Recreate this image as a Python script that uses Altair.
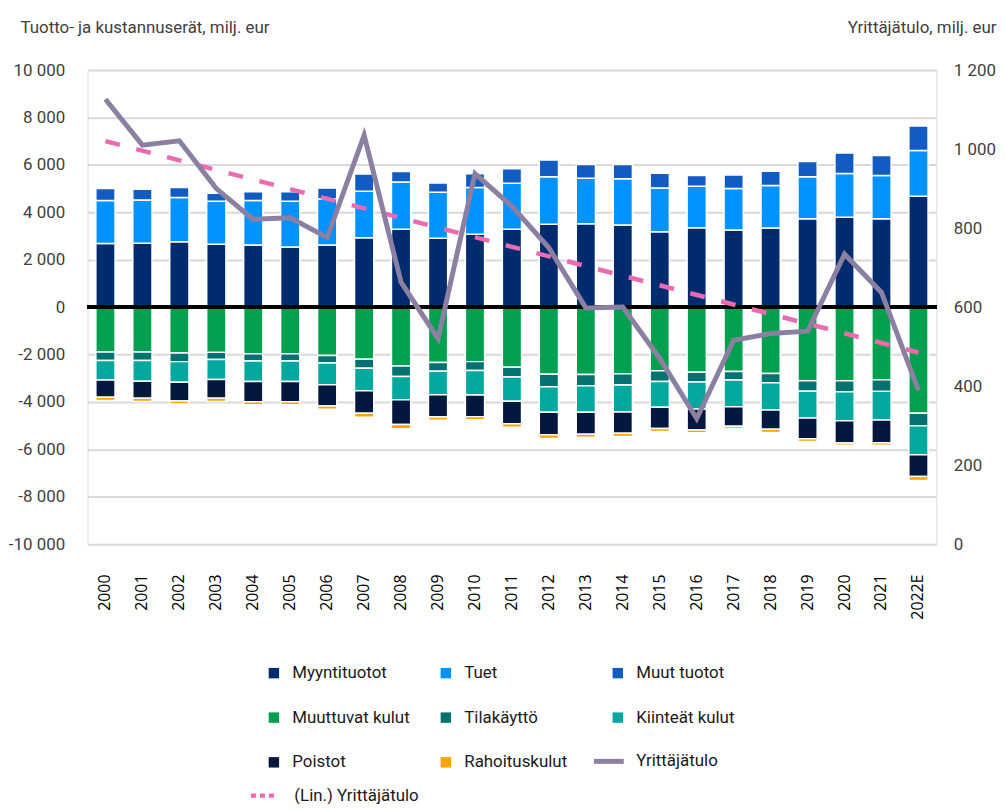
import altair as alt
import pandas as pd

FONT = "Roboto"
FS = 17

years = ["2000", "2001", "2002", "2003", "2004", "2005", "2006", "2007", "2008",
         "2009", "2010", "2011", "2012", "2013", "2014", "2015", "2016", "2017",
         "2018", "2019", "2020", "2021", "2022E"]

# income items (positive)
myyntituotot = [2680, 2690, 2760, 2650, 2620, 2540, 2620, 2930, 3280, 2900, 3070, 3280,
                3490, 3515, 3460, 3180, 3345, 3250, 3335, 3725, 3795, 3725, 4675]
tuet = [1820, 1830, 1860, 1815, 1875, 1925, 1950, 1955, 1995, 1945, 1980, 1940,
        2010, 1925, 1955, 1845, 1750, 1750, 1790, 1775, 1845, 1830, 1930]
muut_tuotot = [500, 450, 430, 335, 375, 405, 450, 725, 450, 390, 575, 615,
               700, 575, 600, 625, 460, 570, 610, 640, 865, 840, 1035]

# cost items (drawn as negative)
muuttuvat_kulut = [1895, 1895, 1935, 1910, 1965, 1965, 2045, 2200, 2480, 2340, 2300, 2535,
                   2830, 2845, 2815, 2690, 2745, 2720, 2800, 3110, 3110, 3070, 4480]
tilakaytto = [360, 360, 365, 305, 305, 305, 310, 380, 450, 365, 375, 410,
              530, 475, 475, 450, 410, 360, 395, 435, 460, 485, 530]
kiinteat_kulut = [825, 870, 865, 840, 870, 870, 925, 950, 980, 995, 1035, 1030,
                  1075, 1115, 1135, 1085, 1145, 1120, 1145, 1130, 1220, 1205, 1215]
poistot = [725, 725, 795, 795, 850, 850, 890, 950, 1045, 935, 910, 950,
           955, 925, 895, 900, 880, 825, 810, 880, 945, 965, 925]
rahoituskulut = [130, 135, 125, 135, 125, 125, 140, 165, 180, 135, 135, 140,
                 150, 125, 135, 120, 120, 95, 135, 110, 95, 105, 165]

# entrepreneurial income (right axis)
yrittajatulo = [1126, 1010, 1021, 900, 822, 826, 776, 1035, 663, 520, 938, 855,
                750, 598, 600, 470, 318, 516, 533, 539, 734, 637, 389]

# linear trend, end points
trend_years = ["2000", "2022E"]
trend_values = [1020, 485]

series_names = ["Myyntituotot", "Tuet", "Muut tuotot", "Muuttuvat kulut", "Tilakäyttö",
                "Kiinteät kulut", "Poistot", "Rahoituskulut"]
series_colors = ["#002b6e", "#0092ff", "#125bc2", "#00a04f", "#00726f", "#00a89d",
                 "#03173f", "#ffa200"]
series_sign = [1, 1, 1, -1, -1, -1, -1, -1]
series_values = [myyntituotot, tuet, muut_tuotot, muuttuvat_kulut, tilakaytto,
                 kiinteat_kulut, poistot, rahoituskulut]

left_ticks = [-10000, -8000, -6000, -4000, -2000, 0, 2000, 4000, 6000, 8000, 10000]
right_ticks = [0, 200, 400, 600, 800, 1000, 1200]

rows = []
for i, (name, sgn, vals) in enumerate(zip(series_names, series_sign, series_values)):
    for yr, v in zip(years, vals):
        rows.append({"year": yr, "series": name, "value": sgn * v, "ord": i})
bars_df = pd.DataFrame(rows)
line_df = pd.DataFrame({"year": years, "value": yrittajatulo, "series": "Yrittäjätulo"})
trend_df = pd.DataFrame({"year": trend_years, "value": trend_values,
                         "series": "(Lin.) Yrittäjätulo"})

label_expr = "(datum.value < 0 ? '-' : '') + replace(format(abs(datum.value), ','), ',', ' ')"

x_enc = alt.X("year:N",
              scale=alt.Scale(domain=years, paddingInner=0.48, paddingOuter=0.225),
              axis=alt.Axis(title=None, labelAngle=-90, labelFont="Open Sans",
                            labelFontSize=16, labelColor="#000000", labelPadding=30,
                            ticks=False, tickSize=0, domain=False, grid=False))

left_scale = alt.Scale(domain=[-10000, 10000], nice=False, zero=False)
left_axis = alt.Axis(title="Tuotto- ja kustannuserät, milj. eur", values=left_ticks,
                     labelExpr=label_expr, grid=True, gridColor="#d9d9d9", gridWidth=2,
                     domain=False, ticks=False, tickSize=0, labelPadding=23,
                     labelFont=FONT, labelFontSize=FS, labelColor="#404040",
                     titleAngle=0, titleX=-68, titleY=-43, titleAlign="left",
                     titleBaseline="middle", titleFont=FONT, titleFontSize=FS,
                     titleFontWeight="normal", titleColor="#404040")

right_scale = alt.Scale(domain=[0, 1200], nice=False)
right_axis = alt.Axis(orient="right", title="Yrittäjätulo, milj. eur", values=right_ticks,
                      labelExpr=label_expr, grid=False, domain=False, ticks=False,
                      tickSize=0, labelPadding=17, labelFont=FONT, labelFontSize=FS,
                      labelColor="#404040", titleAngle=0, titleX=60, titleY=-43,
                      titleAlign="right", titleBaseline="middle", titleFont=FONT,
                      titleFontSize=FS, titleFontWeight="normal", titleColor="#404040")

bars = alt.Chart(bars_df).mark_bar(stroke="white", strokeWidth=1.5).encode(
    x=x_enc,
    y=alt.Y("value:Q", stack="zero", scale=left_scale, axis=left_axis),
    color=alt.Color("series:N",
                    scale=alt.Scale(domain=series_names, range=series_colors),
                    legend=alt.Legend(title=None, orient="none", legendX=179, legendY=598,
                                      direction="horizontal", columns=3,
                                      columnPadding=27, rowPadding=27,
                                      gridAlign="all", symbolType="square",
                                      symbolSize=110, symbolStrokeWidth=0,
                                      labelFont=FONT, labelFontSize=FS,
                                      labelColor="#1a1a1a", labelOffset=10)),
    order=alt.Order("ord:Q", sort="ascending"),
)

zero = alt.Chart(bars_df).mark_rule(color="black", strokeWidth=3).encode(
    y=alt.YDatum(0, scale=left_scale, axis=left_axis)
)

left = alt.layer(bars, zero)

trend = alt.Chart(trend_df).mark_line(strokeWidth=4.5).encode(
    x=x_enc,
    y=alt.Y("value:Q", scale=right_scale, axis=right_axis),
    color=alt.Color("series:N",
                    scale=alt.Scale(domain=["(Lin.) Yrittäjätulo"], range=["#ea6bb2"]),
                    legend=alt.Legend(title=None, orient="none", legendX=162, legendY=714,
                                      symbolType="stroke", symbolSize=729,
                                      symbolStrokeWidth=4.5, symbolDash=[5, 4],
                                      labelFont=FONT, labelFontSize=FS,
                                      labelColor="#1a1a1a", labelOffset=14)),
    strokeDash=alt.StrokeDash("series:N",
                              scale=alt.Scale(domain=["(Lin.) Yrittäjätulo"],
                                              range=[[15, 17]]),
                              legend=None),
)

line = alt.Chart(line_df).mark_line(strokeWidth=5).encode(
    x=x_enc,
    y=alt.Y("value:Q", scale=right_scale, axis=right_axis),
    color=alt.Color("series:N",
                    scale=alt.Scale(domain=["Yrittäjätulo"], range=["#8b7fa2"]),
                    legend=alt.Legend(title=None, orient="none", legendX=507, legendY=678,
                                      symbolType="stroke", symbolSize=900,
                                      symbolStrokeWidth=5, labelFont=FONT,
                                      labelFontSize=FS, labelColor="#1a1a1a",
                                      labelOffset=10)),
)

right = alt.layer(trend, line).resolve_scale(color="independent")

chart = alt.layer(left, right).resolve_scale(
    y="independent", color="independent"
).properties(
    width=854, height=477,
    padding={"left": 80, "top": 60, "right": 62, "bottom": 259},
    autosize=alt.AutoSizeParams(type="none"),
).configure_view(stroke=None).configure(font=FONT)

chart.save("out.html", embed_options={"renderer": "svg", "actions": False})
